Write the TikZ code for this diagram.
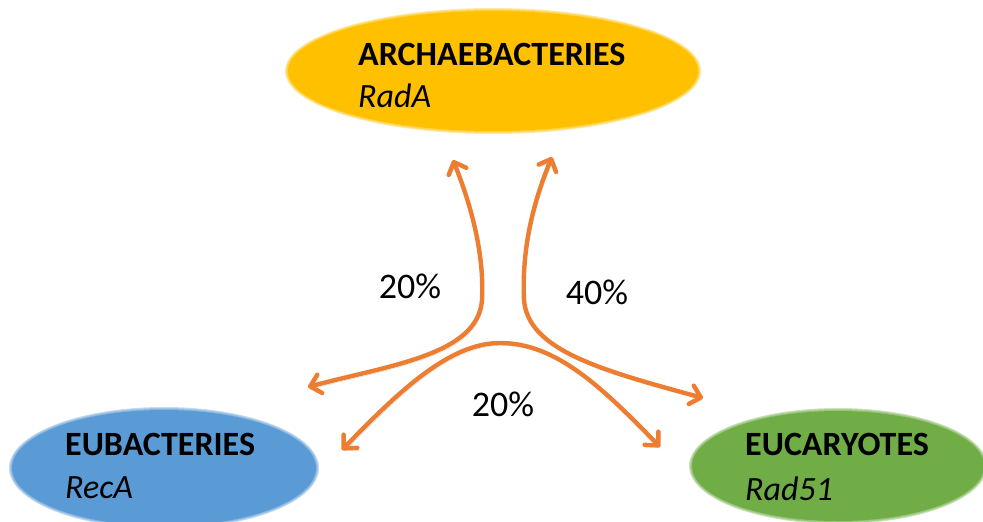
\documentclass[tikz,border=0pt]{standalone}
\usepackage{fontspec}
\setmainfont{Carlito}
\usetikzlibrary{arrows.meta,shapes.geometric}

\definecolor{archfill}{RGB}{255,192,0}
\definecolor{eubfill}{RGB}{91,155,213}
\definecolor{eucfill}{RGB}{112,173,71}
\definecolor{arrowor}{RGB}{237,125,49}

\tikzset{
  core/.style={ellipse, inner sep=0pt, outer sep=0pt, fill=#1},
  halo/.style={fill=#1, fill opacity=0.35},
  title/.style={anchor=base west, inner sep=0pt, font=\fontsize{34}{40}\selectfont\bfseries},
  gene/.style={anchor=base west, inner sep=0pt, font=\fontsize{34}{40}\selectfont\itshape},
  pct/.style={inner sep=0pt, font=\fontsize{36}{42}\selectfont},
  orbarb/.tip={Straight Barb[length=10pt,width=19pt,line width=4.4pt,round]},
  link/.style={draw=arrowor, line width=4.4pt, line cap=round, {orbarb}-{orbarb},
    preaction={draw=black, draw opacity=0.15, transform canvas={shift={(1.5pt,-2.5pt)}}}}
}

\begin{document}
\begin{tikzpicture}[x=1pt,y=-1pt]
\useasboundingbox (0,0) rectangle (983,522);

% soft-edged ellipses: a few translucent rings around an opaque core
\foreach \d in {3,2,1}{
  \fill[halo=archfill] (493,71) ellipse [x radius=205+\d, y radius=60+\d];
  \fill[halo=eubfill] (164,468) ellipse [x radius=152+\d, y radius=58+\d];
  \fill[halo=eucfill] (838,466) ellipse [x radius=146+\d, y radius=55+\d];
}
\node[core=archfill, minimum width=410pt, minimum height=120pt] (arch) at (493,71) {};
\node[core=eubfill, minimum width=304pt, minimum height=116pt] (eub) at (164,468) {};
\node[core=eucfill, minimum width=292pt, minimum height=110pt] (euc) at (838,466) {};

% labels inside the ellipses
\node[title] (archT) at (358,65) {ARCHAEBACTERIES};
\node[gene] (archG) at (358,107) {RadA};
\node[title] (eubT) at (65,455) {EUBACTERIES};
\node[gene] (eubG) at (65,498) {RecA};
\node[title] (eucT) at (745,455) {EUCARYOTES};
\node[gene] (eucG) at (745,500) {Rad51};

% free ends of the double arrows
\coordinate (aL) at (453,160);
\coordinate (bL) at (308,387);
\coordinate (aR) at (552,157);
\coordinate (cR) at (703,398);
\coordinate (bB) at (342,450);
\coordinate (cB) at (660,447);

\draw[link] (aL) .. controls (475,215) and (484,260) .. (482,300)
               .. controls (478,355) and (390,365) .. (bL);
\draw[link] (aR) .. controls (530,210) and (522,255) .. (524,300)
               .. controls (528,350) and (600,370) .. (cR);
\draw[link] (bB) .. controls (400,390) and (450,343) .. (500,343)
               .. controls (555,343) and (600,385) .. (cB);

% percentages
\node[pct] (p1) at (410,286) {20\%};
\node[pct] (p2) at (597,292) {40\%};
\node[pct] (p3) at (503,404) {20\%};
\end{tikzpicture}
\end{document}
